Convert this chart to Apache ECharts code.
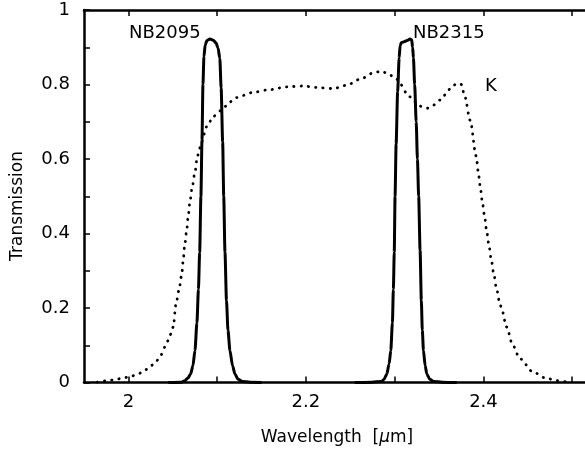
<!DOCTYPE html>
<html>
<head>
<meta charset="utf-8">
<script src="https://cdn.jsdelivr.net/npm/echarts@6/dist/echarts.min.js"></script>
<style>
html,body{margin:0;padding:0;background:#fff;}
#chart{width:585px;height:457px;}
</style>
</head>
<body>
<div id="chart"></div>
<script>
// K-band filter (dotted)
var kWave = [1.965,1.969,1.978,1.987,1.994,2.002,2.011,2.019,2.026,2.032,2.037,2.041,2.045,2.048,2.0505,2.0536,2.0569,2.0600,2.0618,2.0634,2.0656,2.0674,2.0693,2.0719,2.0750,2.0776,2.0798,2.0825,2.088,2.096,2.105,2.114,2.122,2.139,2.156,2.180,2.197,2.212,2.231,2.246,2.261,2.276,2.285,2.293,2.302,2.317,2.328,2.336,2.344,2.351,2.362,2.370,2.375,2.379,2.385,2.3918,2.3940,2.3962,2.3985,2.4011,2.4034,2.4061,2.4087,2.4117,2.4147,2.4185,2.4207,2.426,2.433,2.441,2.456,2.470,2.483,2.495];
var kTrans = [0.001,0.0035,0.005,0.009,0.012,0.016,0.023,0.034,0.046,0.059,0.075,0.095,0.113,0.131,0.149,0.210,0.247,0.288,0.328,0.368,0.407,0.446,0.485,0.525,0.565,0.604,0.626,0.646,0.686,0.715,0.731,0.753,0.765,0.778,0.785,0.794,0.796,0.792,0.789,0.798,0.814,0.831,0.836,0.828,0.814,0.767,0.742,0.736,0.745,0.758,0.787,0.803,0.800,0.767,0.704,0.608,0.568,0.529,0.489,0.450,0.410,0.370,0.331,0.290,0.251,0.212,0.195,0.149,0.100,0.064,0.028,0.012,0.005,0.001];
// NB2095 narrow-band filter (solid)
var nb2095Wave = [2.045,2.060,2.0637,2.0671,2.0701,2.0727,2.0750,2.0772,2.0789,2.0803,2.0817,2.0829,2.0840,2.0851,2.0865,2.0885,2.0919,2.0956,2.0986,2.1010,2.1030,2.1045,2.1062,2.1074,2.1088,2.1105,2.1122,2.1144,2.1173,2.1201,2.1235,2.1280,2.137,2.150];
var nb2095Trans = [0,0.001,0.005,0.012,0.023,0.045,0.086,0.16,0.25,0.35,0.50,0.65,0.80,0.875,0.906,0.918,0.922,0.919,0.912,0.898,0.87,0.79,0.646,0.50,0.35,0.22,0.14,0.086,0.045,0.023,0.009,0.003,0.0005,0];
// NB2315 narrow-band filter (solid)
var nb2315Wave = [2.255,2.2745,2.2855,2.2881,2.2911,2.2937,2.2956,2.2974,2.2985,2.2995,2.3004,2.3016,2.3033,2.3050,2.3061,2.3078,2.3106,2.3140,2.3174,2.3191,2.3202,2.3211,2.3225,2.3242,2.3256,2.3270,2.3286,2.3300,2.3311,2.3324,2.3343,2.3362,2.3394,2.3436,2.3534,2.370];
var nb2315Trans = [0,0.0005,0.003,0.009,0.023,0.05,0.086,0.16,0.25,0.35,0.50,0.64,0.78,0.871,0.905,0.913,0.915,0.918,0.922,0.92,0.90,0.871,0.80,0.70,0.60,0.50,0.355,0.22,0.14,0.086,0.045,0.023,0.009,0.003,0.0005,0];
// axis ticks / labels
var xTickValues = [2.0,2.1,2.2,2.3,2.4,2.5];
var xLabelValues = [2.0,2.2,2.4];
var yTickValues = [0,0.1,0.2,0.3,0.4,0.5,0.6,0.7,0.8,0.9,1.0];
var yLabelValues = [0,0.2,0.4,0.6,0.8,1.0];
var curveLabels = ['NB2095','NB2315','K'];

function pairs(xs, ys){ var o=[]; for(var i=0;i<xs.length;i++) o.push([xs[i], ys[i]]); return o; }
var FONT = 'DejaVu Sans';
var chart = echarts.init(document.getElementById('chart'), null, {renderer:'canvas'});
var axisLineStyle = {color:'#000', width:2.5};
chart.setOption({
  animation:false,
  backgroundColor:'#fff',
  grid:{left:84, top:10, width:506, height:372.5, containLabel:false, outerBoundsMode:'none'},
  xAxis:[{
    type:'value', min:1.95, max:2.52, position:'bottom',
    axisLine:{show:true, onZero:false, lineStyle:axisLineStyle},
    axisTick:{show:true, inside:true, length:6, customValues:xTickValues, lineStyle:{color:'#000', width:1.5}},
    axisLabel:{show:true, customValues:xLabelValues, margin:11, color:'#000', fontFamily:FONT, fontSize:18,
      formatter:function(v){ return String(+v.toFixed(1)); }},
    splitLine:{show:false},
    name:'Wavelength  [{i|\u03bc}m]', nameLocation:'middle', nameGap:47,
    nameTextStyle:{color:'#000', fontFamily:FONT, fontSize:17, rich:{i:{fontStyle:'italic', fontFamily:FONT, fontSize:17, color:'#000'}}}
  },{
    type:'value', min:1.95, max:2.52, position:'top',
    axisLine:{show:true, onZero:false, lineStyle:axisLineStyle},
    axisTick:{show:true, inside:true, length:6, customValues:xTickValues, lineStyle:{color:'#000', width:1.5}},
    axisLabel:{show:false}, splitLine:{show:false}
  }],
  yAxis:[{
    type:'value', min:0, max:1,
    axisLine:{show:true, onZero:false, lineStyle:axisLineStyle},
    axisTick:{show:true, inside:true, length:6, customValues:yTickValues, lineStyle:{color:'#000', width:1.5}},
    axisLabel:{show:true, customValues:yLabelValues, margin:14, color:'#000', fontFamily:FONT, fontSize:18,
      formatter:function(v){ return String(+v.toFixed(1)); }},
    splitLine:{show:false}
  }],
  graphic:[
    {type:'text', x:18, y:206, rotation:Math.PI/2,
      style:{text:'Transmission', fill:'#000', font:'17px "DejaVu Sans"', textAlign:'center', textVerticalAlign:'middle'}},
    {type:'text', x:129, y:33, style:{text:curveLabels[0], fill:'#000', font:'18px "DejaVu Sans"', textAlign:'left', textVerticalAlign:'middle'}},
    {type:'text', x:413, y:33, style:{text:curveLabels[1], fill:'#000', font:'18px "DejaVu Sans"', textAlign:'left', textVerticalAlign:'middle'}},
    {type:'text', x:485, y:86, style:{text:curveLabels[2], fill:'#000', font:'18px "DejaVu Sans"', textAlign:'left', textVerticalAlign:'middle'}}
  ],
  series:[
    {type:'line', name:'K', data:pairs(kWave,kTrans), showSymbol:false, smooth:0.3, smoothMonotone:'x',
      lineStyle:{color:'#000', width:2.8, type:[0.3,7.0], cap:'round'}},
    {type:'line', name:'NB2095', data:pairs(nb2095Wave,nb2095Trans), showSymbol:false, smooth:0.25, smoothMonotone:'x',
      lineStyle:{color:'#000', width:3}},
    {type:'line', name:'NB2315', data:pairs(nb2315Wave,nb2315Trans), showSymbol:false, smooth:0.25, smoothMonotone:'x',
      lineStyle:{color:'#000', width:3}}
  ]
});
</script>
</body>
</html>
